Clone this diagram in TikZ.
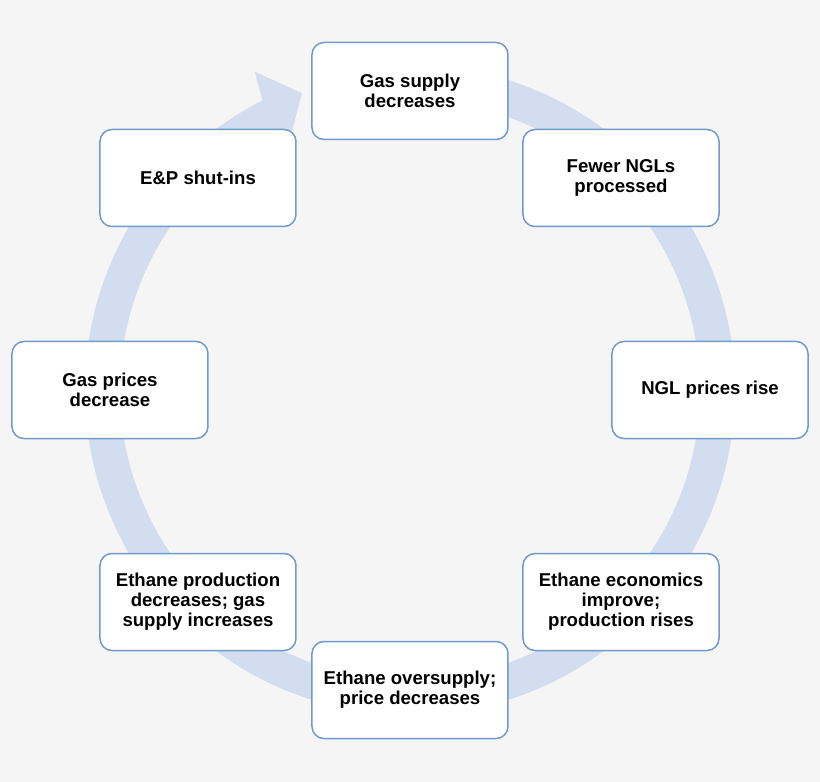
\documentclass[tikz,border=0pt]{standalone}
\usepackage{fontspec}
\setmainfont{Liberation Sans}
\definecolor{bg}{HTML}{F5F5F5}
\definecolor{ring}{HTML}{D2DDEF}
\definecolor{bd}{HTML}{6E9BCB}
\begin{document}
\begin{tikzpicture}[x=1pt,y=1pt,
  box/.style={draw=bd,line width=1.5pt,fill=white,rounded corners=12pt,minimum width=196pt,minimum height=97pt,align=center,font=\fontsize{18.6}{20}\selectfont\bfseries,inner sep=2pt}]
\fill[bg] (-410,-392) rectangle (410,390);
\useasboundingbox (-410,-392) rectangle (410,390);
\fill[ring] (80:325) arc[start angle=80,end angle=-243,radius=325] -- (116:354) -- (110:316) -- (118:265) -- (117:290) arc[start angle=-243,end angle=80,radius=290] -- cycle;
\node[box] (a) at (0,299) {Gas supply\\decreases};
\node[box] (b) at (211,212) {Fewer NGLs\\processed};
\node[box] (c) at (300,0) {NGL prices rise};
\node[box] (d) at (211,-212) {Ethane economics\\improve;\\production rises};
\node[box] (e) at (0,-300) {Ethane oversupply;\\price decreases};
\node[box] (f) at (-212,-212) {Ethane production\\decreases; gas\\supply increases};
\node[box] (g) at (-300,0) {Gas prices\\decrease};
\node[box] (h) at (-212,212) {E\&P shut-ins};
\end{tikzpicture}
\end{document}
